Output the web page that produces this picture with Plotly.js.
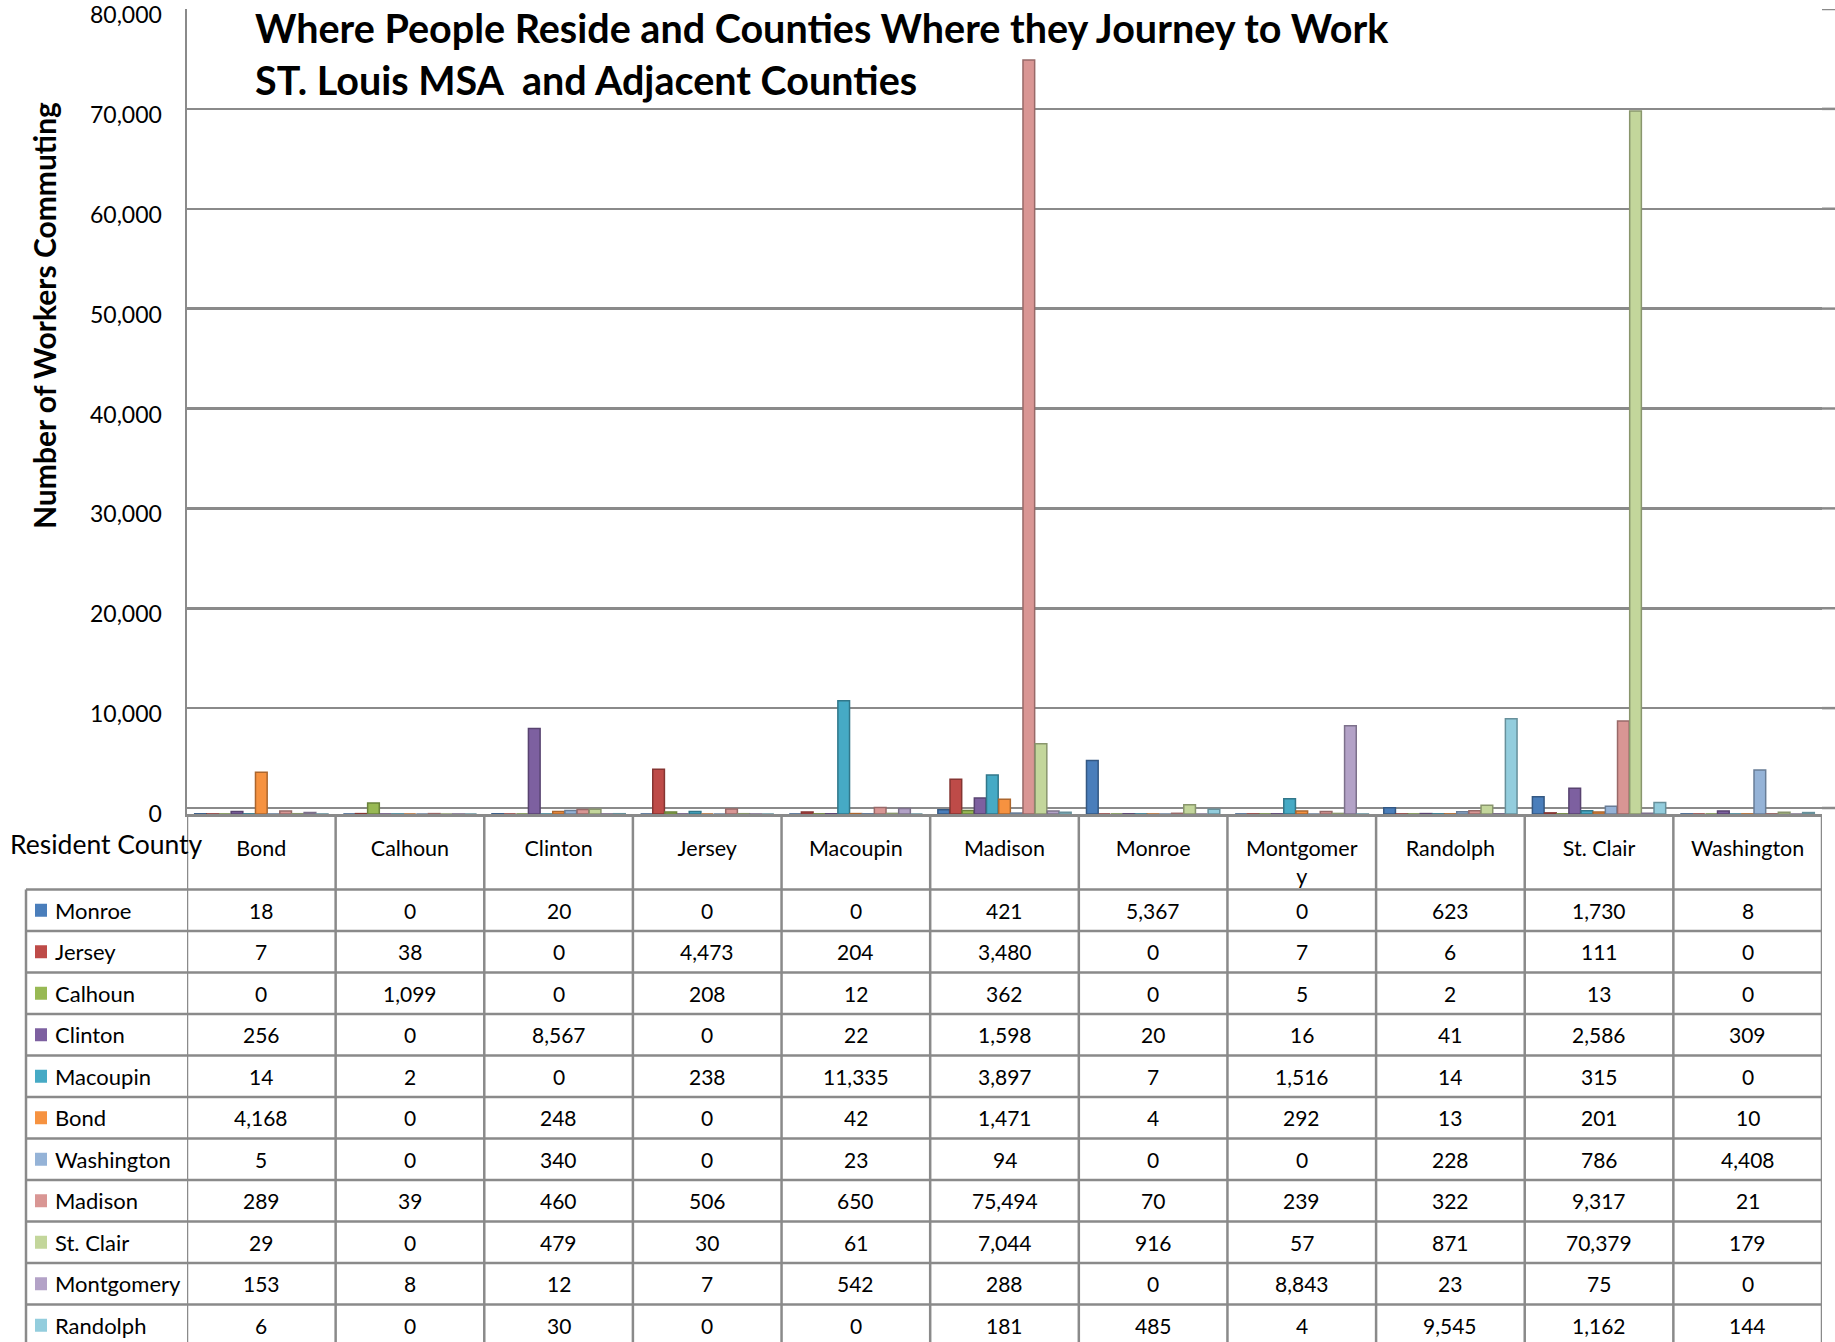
<!DOCTYPE html>
<html>
<head>
<meta charset="utf-8">
<script src="https://cdn.plot.ly/plotly-3.0.1.min.js"></script>
<style>
  html, body { margin: 0; padding: 0; background: #ffffff; }
  #chart { width: 1835px; height: 1342px; }
</style>
</head>
<body>
<div id="chart"></div>
<script>
// Work county (columns of the data table / x categories)
const workCounties = ['Bond', 'Calhoun', 'Clinton', 'Jersey', 'Macoupin', 'Madison',
  'Monroe', 'Montgomery', 'Randolph', 'St. Clair', 'Washington'];
// Header text as printed in the table (Montgomery wraps in its cell)
const headerLabels = ['Bond', 'Calhoun', 'Clinton', 'Jersey', 'Macoupin', 'Madison',
  'Monroe', 'Montgomer<br>y', 'Randolph', 'St. Clair', 'Washington'];

// Resident county series (rows of the data table)
const residentCounties = ['Monroe', 'Jersey', 'Calhoun', 'Clinton', 'Macoupin', 'Bond',
  'Washington', 'Madison', 'St. Clair', 'Montgomery', 'Randolph'];
const seriesColors = ['#4a7ebb', '#be4b48', '#98b954', '#7d60a0', '#46aac5', '#f69240',
  '#95b3d7', '#d99694', '#c3d69b', '#b3a2c7', '#93cddd'];

const monroe     = [18, 0, 20, 0, 0, 421, 5367, 0, 623, 1730, 8];
const jersey     = [7, 38, 0, 4473, 204, 3480, 0, 7, 6, 111, 0];
const calhoun    = [0, 1099, 0, 208, 12, 362, 0, 5, 2, 13, 0];
const clinton    = [256, 0, 8567, 0, 22, 1598, 20, 16, 41, 2586, 309];
const macoupin   = [14, 2, 0, 238, 11335, 3897, 7, 1516, 14, 315, 0];
const bond       = [4168, 0, 248, 0, 42, 1471, 4, 292, 13, 201, 10];
const washington = [5, 0, 340, 0, 23, 94, 0, 0, 228, 786, 4408];
const madison    = [289, 39, 460, 506, 650, 75494, 70, 239, 322, 9317, 21];
const stClair    = [29, 0, 479, 30, 61, 7044, 916, 57, 871, 70379, 179];
const montgomery = [153, 8, 12, 7, 542, 288, 0, 8843, 23, 75, 0];
const randolph   = [6, 0, 30, 0, 0, 181, 485, 4, 9545, 1162, 144];

const seriesValues = [monroe, jersey, calhoun, clinton, macoupin, bond,
  washington, madison, stClair, montgomery, randolph];

const yTicks = [0, 10000, 20000, 30000, 40000, 50000, 60000, 70000, 80000];

// ---- page geometry (pixels) ----
const W = 1835, H = 1342;
const plotL = 187, plotR = 1822, plotT = 9, plotB = 814;
const plotW = plotR - plotL, plotH = plotB - plotT;
const px2x = px => (px - plotL) / plotW;       // pixel -> paper x
const px2y = py => (plotB - py) / plotH;       // pixel -> paper y

const FONT = 'Lato, "Liberation Sans", sans-serif';
const gridColor = '#8a8a8a';

// table rows
const tableTop = 889.5, rowH = 41.5;
const rowCenter = i => tableTop + rowH * (i + 0.5);

function darker(hex, f) {
  const n = parseInt(hex.slice(1), 16);
  const r = Math.round(((n >> 16) & 255) * f);
  const g = Math.round(((n >> 8) & 255) * f);
  const b = Math.round((n & 255) * f);
  return `rgb(${r},${g},${b})`;
}

const traces = residentCounties.map((name, i) => ({
  type: 'bar',
  name: name,
  x: workCounties,
  y: seriesValues[i],
  marker: { color: seriesColors[i], line: { color: darker(seriesColors[i], 0.7), width: 1.5 } },
  hoverinfo: 'x+y+name'
}));

// an empty trace that carries the back-wall gridlines
traces.push({
  type: 'scatter', x: [workCounties[0]], y: [0], yaxis: 'y2',
  mode: 'lines', showlegend: false, hoverinfo: 'skip'
});

const shapes = [];
const annotations = [];

// back-wall gridlines continue a little past the plot's right edge
yTicks.forEach(v => {
  shapes.push({
    type: 'line', xref: 'paper', yref: 'y2', layer: 'below',
    x0: 1, x1: px2x(W), y0: v, y1: v,
    line: { color: gridColor, width: 2.5 }
  });
});

// table column borders follow the category axis
for (let i = 0; i <= workCounties.length; i++) {
  shapes.push({
    type: 'line', xref: 'x', yref: 'paper',
    x0: i - 0.5, x1: i - 0.5, y0: 0, y1: px2y(H + 10),
    line: { color: gridColor, width: 2.5 }
  });
}
// left border of the legend column
shapes.push({
  type: 'line', xref: 'paper', yref: 'paper',
  x0: px2x(26), x1: px2x(26), y0: px2y(tableTop), y1: px2y(H + 10),
  line: { color: gridColor, width: 2.5 }
});
// horizontal row borders
for (let k = 0; k <= residentCounties.length; k++) {
  const py = tableTop + rowH * k;
  shapes.push({
    type: 'line', xref: 'paper', yref: 'paper',
    x0: px2x(26), x1: 1, y0: px2y(py), y1: px2y(py),
    line: { color: gridColor, width: 2.5 }
  });
}

// legend keys, row labels and cell values
residentCounties.forEach((name, i) => {
  const cy = rowCenter(i);
  shapes.push({
    type: 'rect', xref: 'paper', yref: 'paper',
    x0: px2x(35), x1: px2x(47), y0: px2y(cy - 6.5), y1: px2y(cy + 6.5),
    fillcolor: seriesColors[i], line: { width: 0 }
  });
  annotations.push({
    xref: 'paper', yref: 'paper', x: px2x(53), y: px2y(cy),
    xanchor: 'left', yanchor: 'middle', showarrow: false,
    text: name, font: { family: FONT, size: 22, color: '#000' }
  });
  seriesValues[i].forEach((v, j) => {
    annotations.push({
      xref: 'x', yref: 'paper', x: workCounties[j], y: px2y(cy),
      xanchor: 'center', yanchor: 'middle', showarrow: false,
      text: v.toLocaleString('en-US'), font: { family: FONT, size: 21, color: '#000' }
    });
  });
});

// title lines
annotations.push({
  xref: 'paper', yref: 'paper', x: px2x(253), y: px2y(27),
  xanchor: 'left', yanchor: 'middle', showarrow: false,
  text: '<b>Where People Reside and Counties Where they Journey to Work</b>',
  font: { family: FONT, size: 39.5, color: '#000' }
});
annotations.push({
  xref: 'paper', yref: 'paper', x: px2x(253), y: px2y(79),
  xanchor: 'left', yanchor: 'middle', showarrow: false,
  text: '<b>ST. Louis MSA \u00a0and Adjacent Counties</b>',
  font: { family: FONT, size: 39.5, color: '#000' }
});
// y axis title
annotations.push({
  xref: 'paper', yref: 'paper', x: px2x(44), y: px2y(316),
  xanchor: 'center', yanchor: 'middle', showarrow: false, textangle: -90,
  text: '<b>Number of Workers Commuting</b>',
  font: { family: FONT, size: 30, color: '#000' }
});
// table corner label
annotations.push({
  xref: 'paper', yref: 'paper', x: px2x(8), y: px2y(844),
  xanchor: 'left', yanchor: 'middle', showarrow: false,
  text: 'Resident County',
  font: { family: FONT, size: 26.5, color: '#000' }
});

const layout = {
  width: W, height: H,
  margin: { l: plotL, r: W - plotR, t: plotT, b: H - plotB, pad: 0, autoexpand: false },
  paper_bgcolor: '#ffffff', plot_bgcolor: '#ffffff',
  showlegend: false,
  barmode: 'group', bargap: 0.1, bargroupgap: 0.04,
  font: { family: FONT, size: 21, color: '#000' },
  xaxis: {
    type: 'category', categoryorder: 'array', categoryarray: workCounties,
    range: [-0.5, workCounties.length - 0.5], autorange: false,
    tickmode: 'array', tickvals: workCounties, ticktext: headerLabels,
    tickfont: { family: FONT, size: 21.5, color: '#000' },
    ticks: 'outside', ticklen: 14, tickcolor: 'rgba(0,0,0,0)',
    showgrid: false, zeroline: false, automargin: false,
    showline: true, linecolor: gridColor, linewidth: 2.5,
    fixedrange: true
  },
  yaxis: {
    range: [0, 80600], autorange: false, automargin: false,
    tickmode: 'array', tickvals: yTicks,
    ticktext: yTicks.map(v => v.toLocaleString('en-US')),
    tickfont: { family: FONT, size: 23, color: '#000' },
    ticks: 'outside', ticklen: 18, tickcolor: 'rgba(0,0,0,0)',
    showgrid: false, zeroline: false,
    showline: true, linecolor: gridColor, linewidth: 2.5,
    fixedrange: true
  },
  yaxis2: {
    overlaying: 'y', side: 'left', range: [-600, 80000], autorange: false, automargin: false,
    tickmode: 'array', tickvals: yTicks, showticklabels: false,
    showgrid: true, gridcolor: gridColor, gridwidth: 2.5,
    zeroline: false, showline: false, fixedrange: true
  },
  shapes: shapes,
  annotations: annotations
};

Plotly.newPlot('chart', traces, layout, { displayModeBar: false, staticPlot: true });
</script>
</body>
</html>
